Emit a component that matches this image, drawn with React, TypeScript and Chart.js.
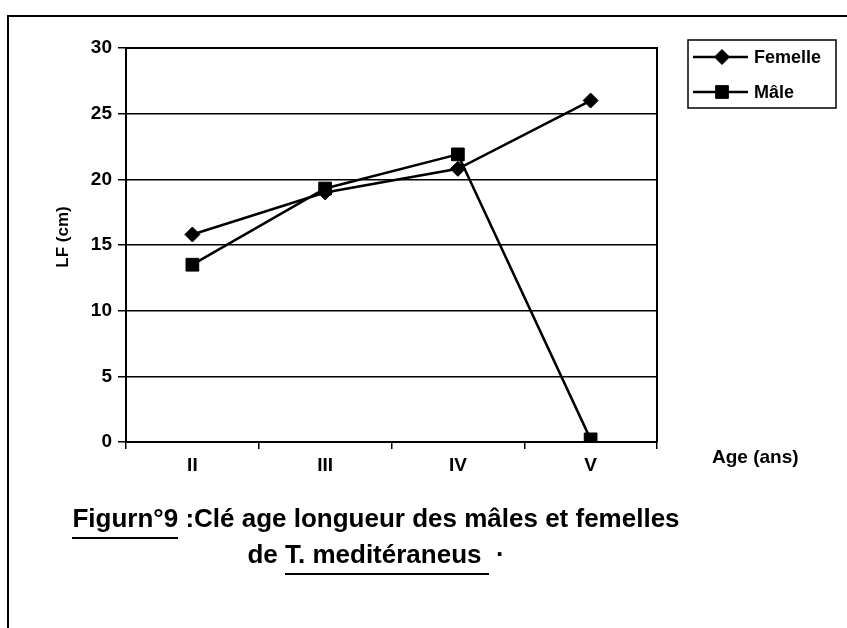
import React, { useEffect, useRef } from 'react';
import { Chart, registerables } from 'chart.js';
import { drawPoint } from 'chart.js/helpers';

Chart.register(...registerables);

const categories = ['II', 'III', 'IV', 'V'];
const femelle = [15.8, 19, 20.8, 26];
const male = [13.5, 19.3, 21.9, 0.2];
const seriesNames = ['Femelle', 'Mâle'];
const yMin = 0;
const yMax = 30;
const yStep = 5;
const yTitle = 'LF (cm)';
const xTitle = 'Age (ans)';
const captionFig = 'Figurn°9';
const captionRest = ' :Clé age longueur des mâles et femelles';
const caption2Pre = 'de ';
const caption2Species = 'T. meditéraneus ';
const caption2Post = ' ·';

const FONT = '"Liberation Sans", Arial, Helvetica, sans-serif';

const decorPlugin = {
  id: 'decor',
  afterDraw(chart: any) {
    const { ctx, chartArea: a } = chart;
    ctx.save();
    ctx.strokeStyle = '#000';
    ctx.fillStyle = '#000';
    // top and right frame of plot area
    ctx.lineWidth = 2;
    ctx.beginPath();
    ctx.moveTo(a.left, a.top);
    ctx.lineTo(a.right, a.top);
    ctx.lineTo(a.right, a.bottom);
    ctx.stroke();

    // y title
    ctx.font = `bold 17px ${FONT}`;
    ctx.textAlign = 'center';
    ctx.textBaseline = 'middle';
    ctx.save();
    ctx.translate(63, (a.top + a.bottom) / 2 - 8);
    ctx.rotate(-Math.PI / 2);
    ctx.fillText(yTitle, 0, 0);
    ctx.restore();

    // x title
    ctx.font = `bold 19px ${FONT}`;
    ctx.textAlign = 'left';
    ctx.fillText(xTitle, a.right + 55, a.bottom + 16);

    // legend
    const lx = a.right + 31;
    const ly = a.top - 8;
    const lw = 148;
    const lh = 68;
    ctx.lineWidth = 1.5;
    ctx.strokeRect(lx, ly, lw, lh);
    ctx.font = `bold 18px ${FONT}`;
    chart.data.datasets.forEach((ds: any, i: number) => {
      const y = ly + 17 + i * 35;
      ctx.lineWidth = 2.5;
      ctx.beginPath();
      ctx.moveTo(lx + 5, y);
      ctx.lineTo(lx + 60, y);
      ctx.stroke();
      ctx.lineWidth = 1;
      drawPoint(ctx, { pointStyle: ds.pointStyle, radius: ds.pointRadius, borderWidth: 1, rotation: 0 } as any, lx + 34, y);
      ctx.fillText(ds.label, lx + 66, y + 1);
    });
    ctx.restore();
  },
};

export default function App() {
  const ref = useRef<HTMLCanvasElement | null>(null);

  useEffect(() => {
    const canvas = ref.current;
    if (!canvas) return;
    const chart = new Chart(canvas, {
      type: 'line',
      data: {
        labels: categories,
        datasets: [
          {
            label: seriesNames[0],
            data: femelle,
            borderColor: '#000',
            backgroundColor: '#000',
            borderWidth: 2.5,
            pointStyle: 'rectRot',
            pointRadius: 7.5,
            pointBackgroundColor: '#000',
            pointBorderColor: '#000',
            pointBorderWidth: 1,
            tension: 0,
          },
          {
            label: seriesNames[1],
            data: male,
            borderColor: '#000',
            backgroundColor: '#000',
            borderWidth: 2.5,
            pointStyle: 'rect',
            pointRadius: 9,
            pointBackgroundColor: '#000',
            pointBorderColor: '#000',
            pointBorderWidth: 1,
            tension: 0,
          },
        ],
      },
      options: {
        animation: false,
        responsive: false,
        maintainAspectRatio: false,
        layout: { padding: { top: 48, right: 190, bottom: 0, left: 0 } },
        plugins: {
          legend: { display: false },
          tooltip: { enabled: false },
        },
        scales: {
          x: {
            type: 'category',
            offset: true,
            afterFit: (s: any) => {
              s.height = 186;
            },
            grid: {
              display: true,
              drawOnChartArea: false,
              drawTicks: true,
              tickLength: 7,
              color: '#000',
              lineWidth: 1.5,
              offset: true,
            },
            border: { display: true, color: '#000', width: 2 },
            ticks: {
              color: '#000',
              font: { family: FONT, size: 19, weight: 'bold' },
              padding: 5,
            },
          },
          y: {
            min: yMin,
            max: yMax,
            afterFit: (s: any) => {
              s.width = 126;
            },
            grid: {
              color: '#000',
              lineWidth: 1.5,
              drawTicks: true,
              tickLength: 8,
            },
            border: { display: true, color: '#000', width: 2 },
            ticks: {
              stepSize: yStep,
              color: '#000',
              font: { family: FONT, size: 19, weight: 'bold' },
              padding: 6,
            },
          },
        },
      },
      plugins: [decorPlugin],
    });
    return () => chart.destroy();
  }, []);

  const captionStyle: React.CSSProperties = {
    position: 'absolute',
    left: 0,
    width: 752,
    textAlign: 'center',
    fontFamily: FONT,
    fontWeight: 'bold',
    fontSize: 26,
    lineHeight: '26px',
    color: '#000',
    whiteSpace: 'pre',
  };
  const ul: React.CSSProperties = { borderBottom: '2.5px solid #000', paddingBottom: 4 };

  return (
    <div style={{ position: 'absolute', left: 0, top: 0, width: 847, height: 628, background: '#fff', overflow: 'hidden' }}>
      <div style={{ position: 'absolute', left: 7, top: 15, width: 860, height: 640, borderLeft: '2px solid #000', borderTop: '2px solid #000' }} />
      <canvas ref={ref} width={847} height={628} style={{ position: 'absolute', left: 0, top: 0, width: 847, height: 628 }} />
      <div style={{ ...captionStyle, top: 505 }}>
        <span style={ul}>{captionFig}</span>
        {captionRest}
      </div>
      <div style={{ ...captionStyle, top: 541 }}>
        {caption2Pre}
        <span style={ul}>{caption2Species}</span>
        {caption2Post}
      </div>
    </div>
  );
}
